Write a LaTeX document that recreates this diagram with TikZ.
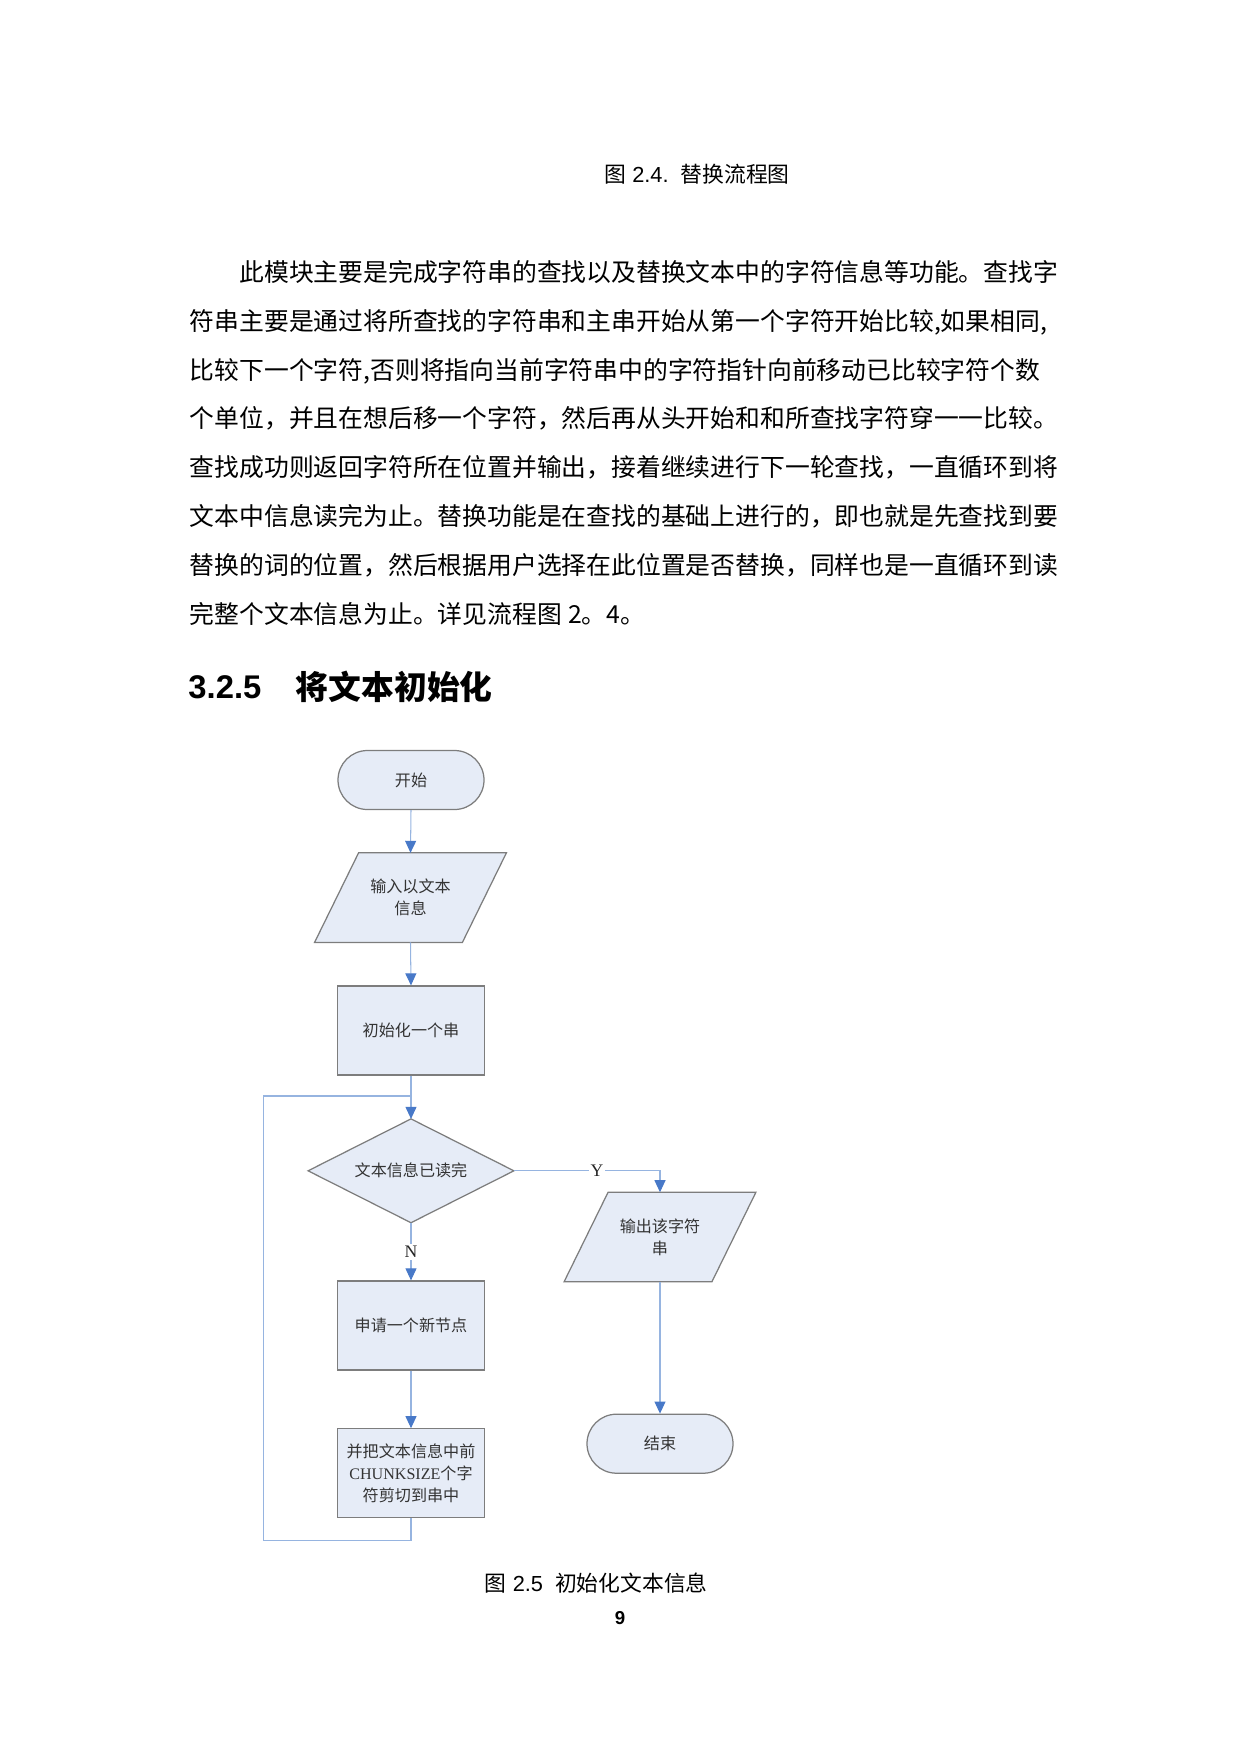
\documentclass[tikz,border=0pt]{standalone}
\usepackage{fontspec}
\setmainfont{Liberation Serif}
\setsansfont{Liberation Sans}
\newfontfamily\cjk{Noto Sans CJK SC}
\usetikzlibrary{arrows.meta,shapes.geometric,backgrounds,calc}
\XeTeXlinebreaklocale "zh"
\XeTeXlinebreakskip=0pt plus 2pt minus 0.3pt
\newcommand{\pxu}{0.48178pt}
\definecolor{fillc}{RGB}{230,236,247}
\definecolor{borderc}{RGB}{125,125,125}
\definecolor{linec}{RGB}{150,180,224}
\definecolor{arrowc}{RGB}{72,121,200}
\begin{document}
\begin{tikzpicture}[x=0.48178pt,y=-0.48178pt,
  every node/.style={inner sep=0pt},
  flowfont/.style={font=\cjk\fontsize{7.75pt}{10.5pt}\selectfont, text=black!80, align=center},
  shapebase/.style={flowfont, draw=borderc, fill=fillc, line width=0.6pt},
  termbox/.style={shapebase, rectangle, rounded corners=14.2pt, minimum width=146*\pxu, minimum height=59*\pxu},
  procbox/.style={shapebase, rectangle, minimum width=146.5*\pxu, minimum height=89*\pxu},
  decbox/.style={flowfont, rectangle, minimum width=205*\pxu, minimum height=103*\pxu},
  iobox/.style={flowfont, rectangle, minimum width=191*\pxu, minimum height=88.7*\pxu},
  ioshape/.style={draw=borderc, fill=fillc, line width=0.6pt},
  conn/.style={draw=linec, line width=0.5pt},
  arr/.style={conn, -{Triangle[length=5.8pt,width=5.3pt,color=arrowc]}},
  lab/.style={font=\rmfamily\fontsize{8.5pt}{10pt}\selectfont, fill=white, inner sep=1pt, text=black!85},
  bodyline/.style={anchor=west, text width=418.5pt, align=justify, text height=10.5pt, text depth=1.45pt, font=\cjk\fontsize{11.95pt}{14pt}\selectfont},
  caption/.style={anchor=west, text height=9.24pt, text depth=1.26pt, font=\sffamily\fontsize{10.5pt}{12pt}\selectfont}
]
\useasboundingbox (0,0) rectangle (1241,1754);

% top caption of previous figure
\node[caption] (cap24) at (604,174) {{\cjk 图} 2.4.~~{\cjk 替换流程图}};

% body paragraph
\node[bodyline] (b1) at (189.5,272.0) {\noindent\parfillskip=0pt\hspace*{23.9pt}此模块主要是完成字符串的查找以及替换文本中的字符信息等功能。查找字};
\node[bodyline] (b2) at (189.5,320.8) {\noindent\parfillskip=0pt 符串主要是通过将所查找的字符串和主串开始从第一个字符开始比较,如果相同,};
\node[bodyline] (b3) at (189.5,369.6) {\noindent\parfillskip=0pt 比较下一个字符,否则将指向当前字符串中的字符指针向前移动已比较字符个数};
\node[bodyline] (b4) at (189.5,418.4) {\noindent\parfillskip=0pt 个单位，并且在想后移一个字符，然后再从头开始和和所查找字符穿一一比较。};
\node[bodyline] (b5) at (189.5,467.2) {\noindent\parfillskip=0pt 查找成功则返回字符所在位置并输出，接着继续进行下一轮查找，一直循环到将};
\node[bodyline] (b6) at (189.5,516.0) {\noindent\parfillskip=0pt 文本中信息读完为止。替换功能是在查找的基础上进行的，即也就是先查找到要};
\node[bodyline] (b7) at (189.5,564.8) {\noindent\parfillskip=0pt 替换的词的位置，然后根据用户选择在此位置是否替换，同样也是一直循环到读};
\node[bodyline] (b8) at (189.5,613.6) {\noindent 完整个文本信息为止。详见流程图\hspace{0.25em}2。4。};

% heading
\node[anchor=west, font=\sffamily\bfseries\fontsize{15.8pt}{18pt}\selectfont, text height=11.3pt, text depth=0pt] (hnum) at (188,687) {3.2.5};
\node[anchor=west, font=\cjk\bfseries\fontsize{15.8pt}{18pt}\selectfont, text height=13.9pt, text depth=1.9pt] (htxt) at (295.5,687) {将文本初始化};

% flowchart nodes
\node[termbox] (start) at (411,780) {开始};
\node[iobox] (in1) at (410.5,897.6) {输入以文本\\信息};
\node[procbox] (init) at (411,1030.5) {初始化一个串};
\node[decbox] (dec) at (411,1170.8) {文本信息已读完};
\node[procbox] (newn) at (411,1325.5) {申请一个新节点};
\node[procbox] (cut) at (411,1473.3) {并把文本信息中前\\{\rmfamily CHUNKSIZE}个字\\符剪切到串中};
\node[iobox] (out) at (660,1237) {输出该字符\\串};
\node[termbox] (end) at (660,1443.7) {结束};

\begin{scope}[on background layer]
\draw[ioshape] ([xshift=44*\pxu]in1.north west) -- (in1.north east) -- ([xshift=-44*\pxu]in1.south east) -- (in1.south west) -- cycle;
\draw[ioshape] ([xshift=44*\pxu]out.north west) -- (out.north east) -- ([xshift=-44*\pxu]out.south east) -- (out.south west) -- cycle;
\draw[ioshape] (dec.north) -- (dec.east) -- (dec.south) -- (dec.west) -- cycle;
\end{scope}

% loop coordinates
\coordinate (loopbl) at (263.6,1540);
\coordinate (looptl) at (263.6,1096);
\coordinate (loopjoin) at (411,1096);

% connectors
\draw[arr] (start.south) -- (in1.north);
\draw[arr] (in1.south) -- (init.north);
\draw[arr] (init.south) -- (dec.north);
\draw[arr] (dec.east) -| (out.north);
\draw[arr] (dec.south) -- (newn.north);
\draw[arr] (newn.south) -- (cut.north);
\draw[arr] (out.south) -- (end.north);
\draw[conn] (cut.south) |- (loopbl) -- (looptl) -- (loopjoin);

% branch labels
\node[lab] (ylab) at (597,1170.8) {Y};
\node[lab] (nlab) at (411,1251.7) {N};

% bottom caption and page number
\node[caption] (cap25) at (484.5,1582.7) {{\cjk 图} 2.5~~{\cjk 初始化文本信息}};
\node[font=\sffamily\bfseries\fontsize{9pt}{11pt}\selectfont] (pnum) at (620,1618) {9};
\end{tikzpicture}
\end{document}
